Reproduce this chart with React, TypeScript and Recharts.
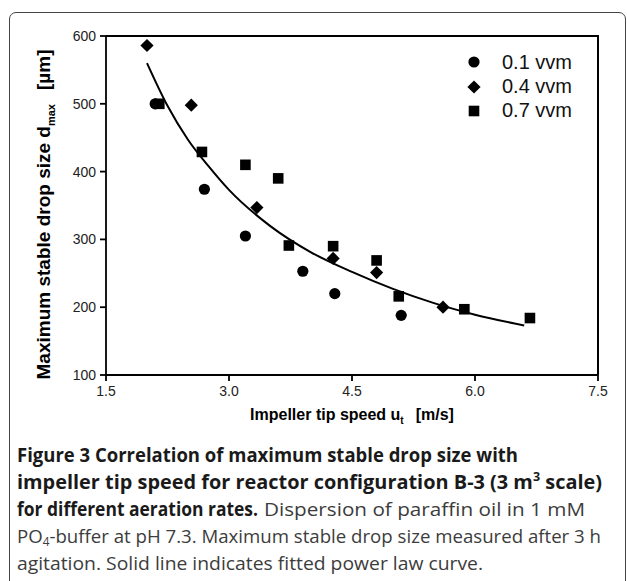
import React from "react";
import {
  ComposedChart, Scatter, Line, XAxis, YAxis, Legend, Label
} from "recharts";

// tip speed [m/s] vs maximum stable drop size [µm]
const vvm01 = [
  { x: 2.10, y: 500 }, { x: 2.70, y: 374 }, { x: 3.20, y: 305 },
  { x: 3.90, y: 253 }, { x: 4.29, y: 220 }, { x: 5.10, y: 188 },
];
const vvm04 = [
  { x: 2.00, y: 586 }, { x: 2.54, y: 498 }, { x: 3.34, y: 347 },
  { x: 4.27, y: 272 }, { x: 4.80, y: 251 }, { x: 5.61, y: 200 },
];
const vvm07 = [
  { x: 2.15, y: 500 }, { x: 2.67, y: 429 }, { x: 3.20, y: 410 },
  { x: 3.60, y: 390 }, { x: 3.73, y: 291 }, { x: 4.27, y: 290 },
  { x: 4.80, y: 269 }, { x: 5.07, y: 216 }, { x: 5.87, y: 197 },
  { x: 6.67, y: 184 },
];
// fitted power law curve
const fitCurve = [
  { x: 2.0, y: 560 }, { x: 2.25, y: 497 }, { x: 2.5, y: 447 },
  { x: 2.75, y: 408 }, { x: 3.0, y: 373 }, { x: 3.5, y: 320 },
  { x: 4.0, y: 281 }, { x: 4.5, y: 252 }, { x: 5.0, y: 227 },
  { x: 5.5, y: 206 }, { x: 6.0, y: 189 }, { x: 6.6, y: 173 },
];

const X_TICKS = [1.5, 3.0, 4.5, 6.0, 7.5];
const Y_TICKS = [100, 200, 300, 400, 500, 600];

const SERIES = [
  { name: "0.1 vvm", kind: "circle", data: vvm01 },
  { name: "0.4 vvm", kind: "diamond", data: vvm04 },
  { name: "0.7 vvm", kind: "square", data: vvm07 },
];

const FONT = "'Liberation Sans', Arial, sans-serif";
const AXIS = "#000";

// chart layout
const CHART_W = 627;
const CHART_H = 430;
const MARGIN = { top: 36, right: 29, left: 0, bottom: 0 };
const Y_AXIS_W = 106;
const X_AXIS_H = 55;

function Marker({ kind, cx, cy }: any) {
  if (cx == null || cy == null) return null;
  if (kind === "circle") return <circle cx={cx} cy={cy} r={5.6} fill="#000" />;
  if (kind === "square")
    return <rect x={cx - 5.3} y={cy - 5.3} width={10.6} height={10.6} fill="#000" />;
  const d = 6.6;
  return (
    <polygon
      points={`${cx},${cy - d} ${cx + d},${cy} ${cx},${cy + d} ${cx - d},${cy}`}
      fill="#000"
    />
  );
}

function LegendBox() {
  return (
    <div style={{ fontFamily: FONT, fontSize: 20, color: "#111" }}>
      {SERIES.map(s => (
        <div key={s.name} style={{ display: "flex", alignItems: "center", height: 24.4 }}>
          <svg width={16} height={16} style={{ marginRight: 20 }}>
            <Marker kind={s.kind} cx={8} cy={8} />
          </svg>
          <span>{s.name}</span>
        </div>
      ))}
    </div>
  );
}

function YTitle({ viewBox }: any) {
  const cx = 50;
  const cy = viewBox.y + viewBox.height / 2 + 9;
  return (
    <text
      x={cx} y={cy} transform={`rotate(-90 ${cx} ${cy})`}
      textAnchor="middle" fontSize={19} fontWeight="bold" fill="#000" fontFamily={FONT}
    >
      Maximum stable drop size d
      <tspan fontSize={11} dy={5}>max</tspan>
      <tspan dy={-5} dx={14}>[µm]</tspan>
    </text>
  );
}

function XTitle({ viewBox }: any) {
  const cx = viewBox.x + viewBox.width / 2;
  const y = viewBox.y + 45;
  return (
    <text x={cx} y={y} textAnchor="middle" fontSize={16} fontWeight="bold" fill="#000" fontFamily={FONT}>
      Impeller tip speed u
      <tspan fontSize={10} dy={4}>t</tspan>
      <tspan dy={-4} dx={12}>[m/s]</tspan>
    </text>
  );
}

function Caption() {
  const bold = { fontFamily: "'Open Sans', 'Noto Sans', sans-serif", fontWeight: 700, fontSize: 19, fill: "#1a1a1a" };
  const reg = { fontFamily: "'Open Sans', 'Noto Sans', sans-serif", fontWeight: 400, fontSize: 19, fill: "#3c3c3c" };
  const adj = "spacingAndGlyphs";
  return (
    <svg width={627} height={151} style={{ position: "absolute", left: 0, top: 430 }}>
      <text x={17} y={32} textLength={501} lengthAdjust={adj} style={bold}>
        Figure 3 Correlation of maximum stable drop size with
      </text>
      <text x={17} y={59} textLength={585} lengthAdjust={adj} style={bold}>
        impeller tip speed for reactor configuration B-3 (3 m<tspan fontSize={12} dy={-8}>3</tspan><tspan dy={8}> scale)</tspan>
      </text>
      <text x={17} y={86} textLength={241} lengthAdjust={adj} style={bold}>
        for different aeration rates.
      </text>
      <text x={264} y={86} textLength={321} lengthAdjust={adj} style={reg}>
        Dispersion of paraffin oil in 1 mM
      </text>
      <text x={17} y={113} textLength={584} lengthAdjust={adj} style={reg}>
        PO<tspan fontSize={12} dy={3}>4</tspan><tspan dy={-3}>-buffer at pH 7.3. Maximum stable drop size measured after 3 h</tspan>
      </text>
      <text x={17} y={140} textLength={466} lengthAdjust={adj} style={reg}>
        agitation. Solid line indicates fitted power law curve.
      </text>
    </svg>
  );
}

export default function App() {
  const plotLeft = MARGIN.left + Y_AXIS_W;
  const plotTop = MARGIN.top;
  const plotRight = CHART_W - MARGIN.right;
  const plotBottom = CHART_H - MARGIN.bottom - X_AXIS_H;
  return (
    <div
      style={{
        position: "absolute", left: 0, top: 0, width: 627, height: 581,
        overflow: "hidden", background: "#fff", fontFamily: FONT,
      }}
    >
      <div
        style={{
          position: "absolute", left: 9, top: 12, width: 615, height: 620,
          border: "1.5px solid #444", borderRadius: 7,
        }}
      />
      <div style={{ position: "absolute", left: 0, top: 0, zIndex: 1 }}>
        <ComposedChart width={CHART_W} height={CHART_H} margin={MARGIN}>
          <XAxis
            type="number" dataKey="x" domain={[1.5, 7.5]} ticks={X_TICKS}
            allowDataOverflow height={X_AXIS_H}
            tickFormatter={(v: number) => v.toFixed(1)}
            stroke={AXIS} strokeWidth={1.8} tickSize={6} tickMargin={5}
            tick={{ fontSize: 14, fill: "#222", fontFamily: FONT }}
          >
            <Label content={<XTitle />} />
          </XAxis>
          <YAxis
            type="number" dataKey="y" domain={[100, 600]} ticks={Y_TICKS}
            allowDataOverflow width={Y_AXIS_W}
            stroke={AXIS} strokeWidth={1.8} tickSize={6} tickMargin={4}
            tick={{ fontSize: 14, fill: "#222", fontFamily: FONT }}
          >
            <Label content={<YTitle />} />
          </YAxis>
          <Legend
            verticalAlign="middle" align="center" layout="vertical"
            content={<LegendBox />}
            wrapperStyle={{ top: 50, left: 466, width: 130, transform: "none" }}
          />
          <Line
            data={fitCurve} dataKey="y" type="monotone" stroke="#000" strokeWidth={2}
            dot={false} legendType="none" isAnimationActive={false}
          />
          {SERIES.map(s => (
            <Scatter
              key={s.name} name={s.name} data={s.data} fill="#000"
              shape={(p: any) => <Marker kind={s.kind} cx={p.cx} cy={p.cy} />}
              isAnimationActive={false}
            />
          ))}
        </ComposedChart>
      </div>
      {/* top and right edges of the plot box */}
      <svg
        width={CHART_W} height={CHART_H}
        style={{ position: "absolute", left: 0, top: 0, zIndex: 2, pointerEvents: "none" }}
      >
        <polyline
          points={`${plotLeft},${plotTop} ${plotRight},${plotTop} ${plotRight},${plotBottom}`}
          fill="none" stroke={AXIS} strokeWidth={2}
        />
      </svg>
      <Caption />
    </div>
  );
}
